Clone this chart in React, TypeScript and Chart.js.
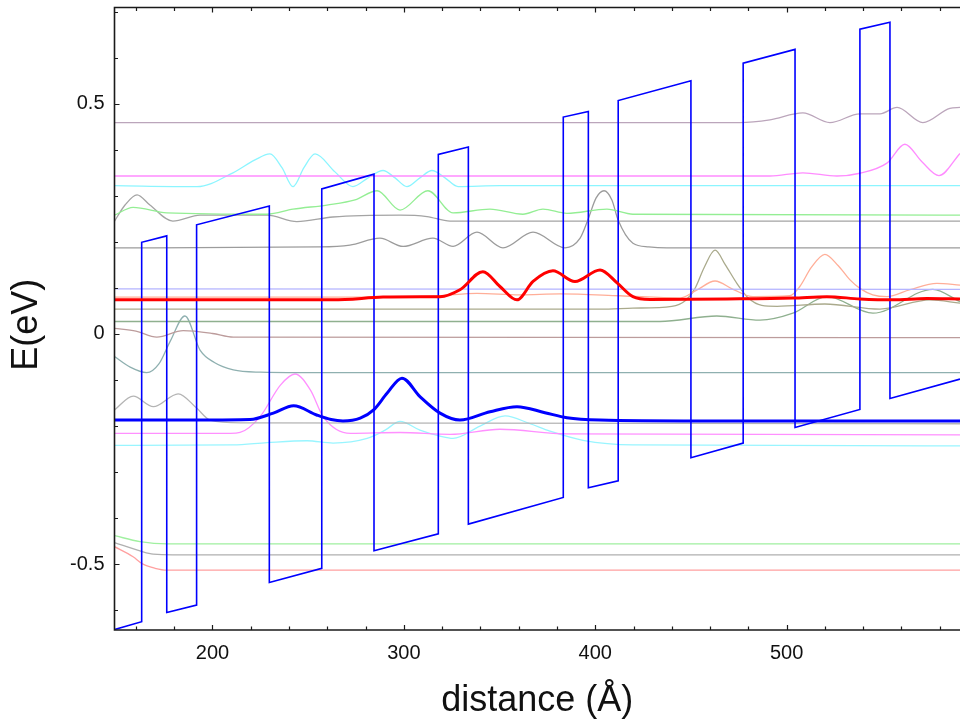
import React, { useEffect, useRef } from 'react';
import { Chart, registerables } from 'chart.js';

Chart.register(...registerables);

// ---- axis ranges & tick labels ----
const X_MIN = 148.8;
const X_MAX = 590.6;
const Y_MIN = -0.643;
const Y_MAX = 0.709;
const xTickLabels = [200, 300, 400, 500];
const yTickLabels = [-0.5, 0, 0.5];
const xTitle = 'distance (Å)';
const yTitle = 'E(eV)';

// ---- conduction band profile (blue staircase) ----
const profileX = [148.8, 163.0, 163.0, 176.1, 176.1, 191.7, 191.7, 229.7, 229.7, 257.1, 257.1, 284.4, 284.4, 318.0, 318.0, 333.7, 333.7, 383.3, 383.3, 396.4, 396.4, 412.0, 412.0, 450.0, 450.0, 477.3, 477.3, 504.4, 504.4, 538.3, 538.3, 554.0, 554.0, 590.6];
const profileY = [-0.642, -0.625, 0.199, 0.213, -0.605, -0.589, 0.237, 0.278, -0.540, -0.509, 0.315, 0.347, -0.471, -0.434, 0.390, 0.406, -0.413, -0.355, 0.471, 0.483, -0.334, -0.319, 0.507, 0.550, -0.269, -0.237, 0.588, 0.618, -0.203, -0.164, 0.662, 0.677, -0.140, -0.098];

// ---- thick wavefunctions ----
const redX = [148.8, 262.9, 289.1, 308.4, 318.9, 329.3, 341.3, 350.2, 359.1, 367.5, 377.9, 389.4, 402.5, 411.4, 419.7, 428.6, 468.8, 503.3, 521.0, 538.3, 555.5, 573.3, 590.6];
const redY = [0.074, 0.074, 0.080, 0.081, 0.081, 0.096, 0.135, 0.103, 0.074, 0.114, 0.137, 0.114, 0.139, 0.111, 0.081, 0.075, 0.076, 0.078, 0.081, 0.076, 0.074, 0.077, 0.076];

const blueX = [148.8, 193.5, 219.6, 231.8, 242.4, 254.4, 262.0, 268.2, 277.2, 284.2, 291.2, 299.0, 308.4, 318.9, 329.3, 345.0, 359.1, 373.7, 385.2, 402.5, 454.7, 590.6];
const blueY = [-0.187, -0.187, -0.186, -0.172, -0.156, -0.176, -0.186, -0.189, -0.183, -0.165, -0.129, -0.096, -0.136, -0.172, -0.187, -0.169, -0.158, -0.171, -0.182, -0.187, -0.189, -0.189];

// ---- thin wavefunctions ----
const mauveX = [148.8, 475.6, 491.3, 508.5, 522.6, 538.3, 548.8, 557.7, 571.2, 585.3, 590.6];
const mauveY = [0.459, 0.459, 0.465, 0.480, 0.459, 0.478, 0.478, 0.492, 0.459, 0.490, 0.492];

const magentaHiX = [148.8, 491.3, 508.5, 526.3, 538.3, 552.4, 561.8, 570.7, 579.6, 590.6];
const magentaHiY = [0.343, 0.343, 0.350, 0.343, 0.349, 0.371, 0.412, 0.374, 0.344, 0.392];

const cyanHiX = [148.8, 191.9, 210.7, 222.2, 230.0, 236.3, 242.1, 247.8, 253.6, 264.0, 273.4, 281.3, 289.1, 295.4, 301.6, 308.4, 314.7, 321.5, 328.3, 350.2, 590.6];
const cyanHiY = [0.322, 0.320, 0.350, 0.378, 0.391, 0.361, 0.320, 0.361, 0.391, 0.352, 0.320, 0.339, 0.355, 0.339, 0.320, 0.339, 0.355, 0.339, 0.320, 0.322, 0.322];

const greenX = [148.8, 158.5, 176.2, 228.5, 242.1, 259.8, 274.5, 286.0, 298.0, 312.6, 325.7, 345.0, 362.2, 372.7, 385.2, 406.1, 419.7, 590.6];
const greenY = [0.258, 0.275, 0.263, 0.260, 0.271, 0.280, 0.291, 0.311, 0.269, 0.311, 0.263, 0.271, 0.260, 0.271, 0.262, 0.271, 0.260, 0.258];

const grayAX = [148.8, 154.3, 160.6, 167.3, 179.3, 193.5, 228.5, 244.1, 262.9, 298.0, 312.1, 324.1, 590.6];
const grayAY = [0.245, 0.280, 0.302, 0.280, 0.245, 0.258, 0.258, 0.244, 0.254, 0.258, 0.255, 0.245, 0.245];

const grayBX = [148.8, 256.2, 271.8, 287.5, 299.6, 315.2, 325.7, 338.2, 351.8, 367.5, 384.2, 392.1, 396.2, 400.4, 404.6, 408.7, 411.9, 419.7, 428.0, 437.4, 590.6];
const grayBY = [0.187, 0.189, 0.193, 0.208, 0.190, 0.208, 0.190, 0.221, 0.187, 0.221, 0.187, 0.208, 0.248, 0.295, 0.311, 0.291, 0.248, 0.197, 0.189, 0.187, 0.187];

const lavenderX = [148.8, 590.6];
const lavenderY = [0.098, 0.097];

const salmonX = [148.8, 298.0, 318.9, 338.2, 360.7, 381.6, 412.9, 444.3, 453.0, 462.6, 472.0, 482.4, 501.7, 506.9, 513.0, 520.0, 527.0, 533.0, 538.3, 545.0, 552.4, 564.5, 578.5, 590.6];
const salmonY = [0.080, 0.080, 0.083, 0.088, 0.085, 0.087, 0.083, 0.078, 0.095, 0.115, 0.097, 0.081, 0.083, 0.103, 0.145, 0.173, 0.148, 0.118, 0.099, 0.085, 0.081, 0.096, 0.110, 0.106];

const oliveX = [148.8, 402.5, 419.7, 440.0, 447.0, 452.0, 457.0, 462.6, 468.0, 474.0, 480.0, 487.0, 495.0, 520.0, 548.8, 574.9, 590.6];
const oliveY = [0.054, 0.054, 0.056, 0.060, 0.072, 0.098, 0.145, 0.182, 0.150, 0.110, 0.078, 0.062, 0.060, 0.065, 0.054, 0.074, 0.067];

const seaX = [148.8, 433.8, 463.5, 486.1, 503.3, 521.0, 545.1, 576.4, 590.6];
const seaY = [0.027, 0.027, 0.039, 0.030, 0.045, 0.081, 0.045, 0.097, 0.070];

const brownX = [148.8, 160.0, 170.9, 184.7, 200.0, 210.9, 590.6];
const brownY = [0.012, 0.006, -0.007, 0.007, 0.001, -0.007, -0.008];

const tealX = [148.8, 157.0, 165.6, 172.0, 178.0, 185.6, 193.5, 201.0, 210.9, 225.0, 245.7, 590.6];
const tealY = [-0.049, -0.072, -0.084, -0.065, -0.015, 0.039, -0.035, -0.062, -0.078, -0.083, -0.084, -0.084];

const grayLowX = [148.8, 158.6, 169.1, 182.1, 191.7, 198.7, 215.0, 590.6];
const grayLowY = [-0.165, -0.135, -0.158, -0.130, -0.161, -0.187, -0.193, -0.195];

const magentaLoX = [148.8, 209.4, 214.4, 224.8, 235.5, 243.1, 251.2, 257.9, 272.1, 298.0, 324.1, 350.2, 385.2, 590.6];
const magentaLoY = [-0.216, -0.216, -0.214, -0.180, -0.111, -0.087, -0.122, -0.180, -0.216, -0.214, -0.218, -0.207, -0.217, -0.219];

const cyanLoX = [148.8, 210.7, 228.5, 249.4, 263.0, 280.8, 290.2, 298.0, 308.4, 318.9, 325.7, 339.8, 352.9, 365.9, 376.3, 393.6, 419.7, 590.6];
const cyanLoY = [-0.242, -0.241, -0.236, -0.232, -0.237, -0.227, -0.209, -0.190, -0.209, -0.222, -0.227, -0.200, -0.178, -0.195, -0.211, -0.231, -0.241, -0.243];

const greenBotX = [148.8, 162.1, 176.2, 590.6];
const greenBotY = [-0.438, -0.451, -0.456, -0.456];

const grayBotX = [148.8, 162.1, 169.0, 193.5, 590.6];
const grayBotY = [-0.453, -0.471, -0.478, -0.480, -0.480];

const redBotX = [148.8, 158.5, 163.7, 170.0, 176.2, 590.6];
const redBotY = [-0.462, -0.484, -0.500, -0.509, -0.513, -0.513];

const FONT = "'Liberation Sans', Arial, Helvetica, sans-serif";

function pts(xs: number[], ys: number[]) {
  return xs.map((x, i) => ({ x, y: ys[i] }));
}

function curve(xs: number[], ys: number[], color: string, width: number, order: number, smooth = true) {
  return {
    data: pts(xs, ys),
    borderColor: color,
    backgroundColor: color,
    borderWidth: width,
    pointRadius: 0,
    fill: false,
    order,
    tension: 0,
    cubicInterpolationMode: smooth ? 'monotone' : 'default',
  } as any;
}

const framePlugin = {
  id: 'frameTicks',
  afterDatasetsDraw(chart: any) {
    const { ctx, chartArea: ca, scales } = chart;
    const x = scales.x;
    const y = scales.y;
    ctx.save();
    ctx.strokeStyle = '#1a1a1a';
    ctx.lineWidth = 1.6;
    ctx.beginPath();
    ctx.moveTo(ca.right, ca.top);
    ctx.lineTo(ca.left, ca.top);
    ctx.lineTo(ca.left, ca.bottom);
    ctx.lineTo(ca.right, ca.bottom);
    ctx.stroke();
    ctx.lineWidth = 1.2;
    ctx.beginPath();
    for (let v = Math.ceil(X_MIN / 20) * 20; v <= X_MAX; v += 20) {
      const px = Math.round(x.getPixelForValue(v)) + 0.5;
      const len = v % 100 === 0 ? 5 : 3.5;
      ctx.moveTo(px, ca.bottom);
      ctx.lineTo(px, ca.bottom - len);
      ctx.moveTo(px, ca.top);
      ctx.lineTo(px, ca.top + len);
    }
    for (let k = Math.ceil(Y_MIN * 10); k <= Math.floor(Y_MAX * 10); k++) {
      const py = Math.round(y.getPixelForValue(k / 10)) + 0.5;
      const len = k % 5 === 0 ? 5 : 3.5;
      ctx.moveTo(ca.left, py);
      ctx.lineTo(ca.left + len, py);
    }
    ctx.stroke();
    ctx.restore();
  },
  afterDraw(chart: any) {
    const { ctx, chartArea: ca } = chart;
    ctx.save();
    ctx.fillStyle = '#111';
    ctx.font = `36px ${FONT}`;
    ctx.textAlign = 'center';
    ctx.textBaseline = 'middle';
    ctx.translate(27, (ca.top + ca.bottom) / 2 + 6);
    ctx.rotate(-Math.PI / 2);
    ctx.fillText(yTitle, 0, 0);
    ctx.restore();
  },
};

export default function App() {
  const ref = useRef<HTMLCanvasElement | null>(null);

  useEffect(() => {
    if (!ref.current) return;
    const thin = 1.3;
    const datasets = [
      curve(redX, redY, '#ff0000', 3, 0),
      curve(blueX, blueY, '#0000ff', 3, 1),
      curve(profileX, profileY, '#0000ff', 1.6, 2, false),
      curve(mauveX, mauveY, '#bba5bb', thin, 5),
      curve(magentaHiX, magentaHiY, '#ff8cff', thin, 5),
      curve(cyanHiX, cyanHiY, '#8cf5ff', thin, 5),
      curve(greenX, greenY, '#94ee94', thin, 5),
      curve(grayAX, grayAY, '#a4a4a4', thin, 5),
      curve(grayBX, grayBY, '#9c9c9c', thin, 5),
      curve(lavenderX, lavenderY, '#b4b4ff', thin, 5),
      curve(salmonX, salmonY, '#ffae98', thin, 5),
      curve(oliveX, oliveY, '#aaaa8c', thin, 5),
      curve(seaX, seaY, '#8fb08f', thin, 5),
      curve(brownX, brownY, '#bc9c9c', thin, 5),
      curve(tealX, tealY, '#8fb0b0', thin, 5),
      curve(grayLowX, grayLowY, '#b4b4b4', thin, 5),
      curve(magentaLoX, magentaLoY, '#ff90ff', thin, 5),
      curve(cyanLoX, cyanLoY, '#99f5ff', thin, 5),
      curve(greenBotX, greenBotY, '#a0f0a0', thin, 5),
      curve(grayBotX, grayBotY, '#b0b0b0', thin, 5),
      curve(redBotX, redBotY, '#ffa0a0', thin, 5),
    ];

    const chart = new Chart(ref.current, {
      type: 'line',
      data: { datasets },
      options: {
        animation: false,
        responsive: false,
        maintainAspectRatio: false,
        devicePixelRatio: 1,
        layout: { padding: { top: 7.5, left: 0, right: 0, bottom: 0 } },
        plugins: { legend: { display: false }, tooltip: { enabled: false } },
        scales: {
          x: {
            type: 'linear',
            min: X_MIN,
            max: X_MAX,
            grid: { display: false, drawTicks: false },
            border: { display: false },
            afterFit: (s: any) => { s.height = 90; s.paddingLeft = 0; s.paddingRight = 0; },
            afterBuildTicks: (s: any) => { s.ticks = xTickLabels.map((v) => ({ value: v })); },
            ticks: {
              padding: 11,
              color: '#111',
              font: { family: FONT, size: 20 },
              maxRotation: 0,
              autoSkip: false,
              callback: (v: any) => String(v),
            },
            title: {
              display: true,
              text: xTitle,
              color: '#111',
              font: { family: FONT, size: 36, lineHeight: 1 },
              padding: { top: 0, bottom: 1 },
            },
          },
          y: {
            type: 'linear',
            min: Y_MIN,
            max: Y_MAX,
            grid: { display: false, drawTicks: false },
            border: { display: false },
            afterFit: (s: any) => { s.width = 114.5; s.paddingTop = 0; s.paddingBottom = 0; },
            afterBuildTicks: (s: any) => { s.ticks = yTickLabels.map((v) => ({ value: v })); },
            ticks: {
              padding: 10,
              color: '#111',
              font: { family: FONT, size: 20 },
              autoSkip: false,
              callback: (v: any) => String(v),
            },
          },
        },
      },
      plugins: [framePlugin],
    } as any);
    return () => chart.destroy();
  }, []);

  return (
    <div style={{ position: 'absolute', left: 0, top: 0, width: 960, height: 720, background: '#fff' }}>
      <canvas ref={ref} width={960} height={720} style={{ display: 'block', width: 960, height: 720 }} />
    </div>
  );
}
